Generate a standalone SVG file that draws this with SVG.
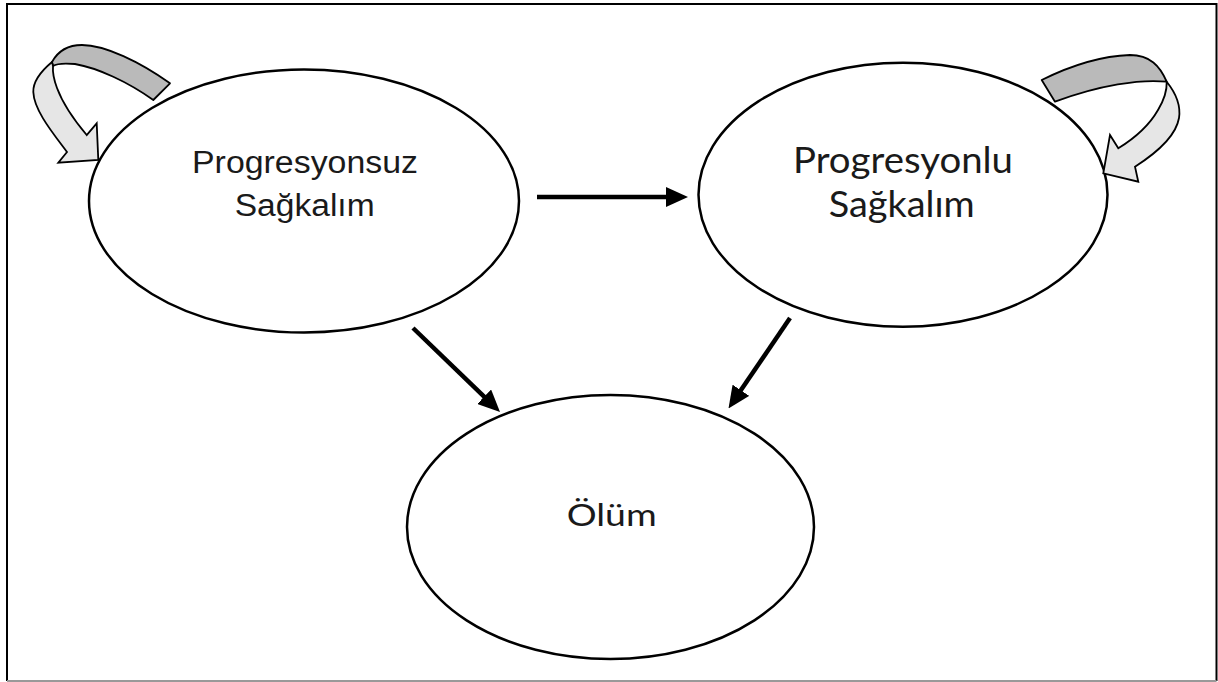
<svg xmlns="http://www.w3.org/2000/svg" width="1218" height="682" viewBox="0 0 1218 682">
<style>
.node{fill:#fff;stroke:#000;stroke-width:2.5}
.conn{stroke:#000;stroke-width:4.5;fill:none}
.la{font-family:"Liberation Sans",Arial,sans-serif;font-size:31px;fill:#1a1a1a;text-anchor:middle}
.lb{font-family:Lato,"Noto Sans",sans-serif;fill:#1a1a1a;text-anchor:middle}
.dark{fill:#bababa;stroke:#000;stroke-width:1.8;stroke-linejoin:round}
.light{fill:#e6e6e6;stroke:#000;stroke-width:1.8;stroke-linejoin:miter}
</style>
<defs>
<marker id="ah" viewBox="0 -10 22 20" refX="1" refY="0" markerWidth="22" markerHeight="20" markerUnits="userSpaceOnUse" orient="auto">
<path d="M0,-10 L22,0 L0,10 z" fill="#000"/>
</marker>
</defs>
<rect x="0" y="0" width="1218" height="682" fill="#fff"/>
<g id="frame">
<path d="M7,681 L7,4 L1216.5,4 L1216.5,681" fill="none" stroke="#000" stroke-width="2"/>
<line x1="7" y1="681" x2="1216.5" y2="681" stroke="#999" stroke-width="2"/>
</g>
<g id="node-progresyonsuz">
<ellipse class="node" cx="304" cy="201" rx="215" ry="131.5"/>
<text class="la" x="305" y="173.3" textLength="226" lengthAdjust="spacingAndGlyphs">Progresyonsuz</text>
<text class="la" x="304.7" y="215.7" textLength="140" lengthAdjust="spacingAndGlyphs">Sağkalım</text>
</g>
<g id="node-progresyonlu">
<ellipse class="node" cx="903" cy="194.7" rx="204.5" ry="132"/>
<text class="lb" x="903" y="173.3" font-size="36" textLength="220" lengthAdjust="spacingAndGlyphs">Progresyonlu</text>
<text class="lb" x="901.7" y="216.7" font-size="36" textLength="146" lengthAdjust="spacingAndGlyphs">Sağkalım</text>
</g>
<g id="node-olum">
<ellipse class="node" cx="610.5" cy="527" rx="203.5" ry="132"/>
<text class="lb" x="611.7" y="526" font-size="31.5" textLength="90" lengthAdjust="spacingAndGlyphs">Ölüm</text>
</g>
<g id="connectors">
<line class="conn" x1="537" y1="197" x2="667" y2="197" marker-end="url(#ah)"/>
<line class="conn" x1="413" y1="328" x2="484.9" y2="397.4" marker-end="url(#ah)"/>
<line class="conn" x1="790" y1="318" x2="740.3" y2="391.1" marker-end="url(#ah)"/>
</g>
<g id="self-loop-left">
<path class="dark" d="M52,62 C58,51 68,45 82,45 C105,45 140,62 170,83.3 L153.3,100 C128,82 98,68 75,64 C64,63 56,64 53,66 Z"/>
<path class="light" d="M52,62 C40,72 33,82 33.3,92 C34,110 52,132 67,152 L58.3,162.7 L98.3,160 L96.7,123.3 L86.7,135 C74,120 63,104 57,88 C54,80 52.5,72 53,66 Z"/>
</g>
<g id="self-loop-right">
<path class="dark" d="M1041.7,80 C1070,66 1100,56 1130,55 C1150,55 1160,66 1166.7,81.7 C1140,79 1100,85 1055,101.7 Z"/>
<path class="light" d="M1166.7,81.7 C1175,92 1181,105 1179,118 C1176,136 1158,152 1135,166.7 L1138.3,181.7 L1103.3,173.3 L1110,135 L1118.3,148.3 C1135,138 1150,124 1158,110 C1164,100 1167,90 1166.7,81.7 Z"/>
</g>
</svg>
